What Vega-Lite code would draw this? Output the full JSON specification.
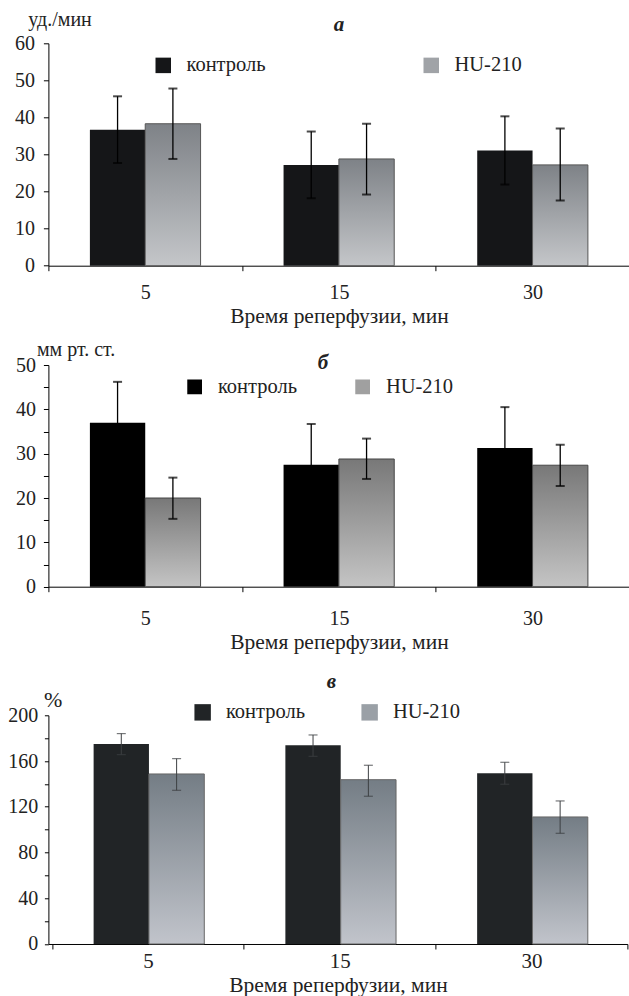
{
  "$schema": "https://vega.github.io/schema/vega-lite/v6.json",
  "padding": {"left": 7.4, "top": 9.3, "right": 0, "bottom": 0},
  "background": "white",
  "datasets": {
    "a": [
      {"t": "5", "g": "контроль", "v": 36.7, "lo": 27.7, "hi": 45.7},
      {"t": "5", "g": "HU-210", "v": 38.3, "lo": 28.8, "hi": 47.8},
      {"t": "15", "g": "контроль", "v": 27.2, "lo": 18.2, "hi": 36.2},
      {"t": "15", "g": "HU-210", "v": 28.8, "lo": 19.2, "hi": 38.3},
      {"t": "30", "g": "контроль", "v": 31.1, "lo": 21.9, "hi": 40.3},
      {"t": "30", "g": "HU-210", "v": 27.2, "lo": 17.6, "hi": 37.0}
    ],
    "b": [
      {"t": "5", "g": "контроль", "v": 37.0, "lo": 27.8, "hi": 46.2},
      {"t": "5", "g": "HU-210", "v": 20.0, "lo": 15.3, "hi": 24.6},
      {"t": "15", "g": "контроль", "v": 27.5, "lo": 18.3, "hi": 36.7},
      {"t": "15", "g": "HU-210", "v": 28.8, "lo": 24.3, "hi": 33.4},
      {"t": "30", "g": "контроль", "v": 31.3, "lo": 22.1, "hi": 40.5},
      {"t": "30", "g": "HU-210", "v": 27.4, "lo": 22.7, "hi": 32.0}
    ],
    "c": [
      {"t": "5", "g": "контроль", "v": 174.9, "lo": 165.6, "hi": 184.0},
      {"t": "5", "g": "HU-210", "v": 148.7, "lo": 134.4, "hi": 162.1},
      {"t": "15", "g": "контроль", "v": 173.8, "lo": 164.1, "hi": 182.8},
      {"t": "15", "g": "HU-210", "v": 143.7, "lo": 129.2, "hi": 156.3},
      {"t": "30", "g": "контроль", "v": 149.3, "lo": 139.7, "hi": 158.9},
      {"t": "30", "g": "HU-210", "v": 111.1, "lo": 96.8, "hi": 125.1}
    ]
  },
  "spacing": 17,
  "bounds": "full",
  "align": "none",
  "resolve": {"scale": {"fill": "independent"}, "legend": {"fill": "independent"}},
  "vconcat": [
    {
      "spacing": 98.7,
      "bounds": "flush",
      "resolve": {"scale": {"fill": "independent"}, "legend": {"fill": "independent"}},
      "vconcat": [
        {
          "width": 581,
          "height": 222.4,
          "data": {"name": "a"},
          "title": {"text": "а", "anchor": "middle", "frame": "group", "baseline": "alphabetic", "offset": -42.7, "dx": 0, "font": "Liberation Serif", "fontSize": 21, "fontStyle": "italic", "fontWeight": "bold", "color": "#222"},
          "encoding": {
            "x": {"field": "t", "type": "nominal", "sort": ["5", "15", "30"], "scale": {"paddingInner": 0, "paddingOuter": 0},
              "axis": {"title": "Время реперфузии, мин", "labelAngle": 0, "tickBand": "extent", "tickSize": 5, "labelPadding": 12, "titlePadding": 3, "titleFontSize": 21.5}},
            "xOffset": {"field": "g", "type": "nominal", "sort": ["контроль", "HU-210"], "scale": {"paddingInner": 0, "paddingOuter": 0.75}}
          },
          "layer": [
            {
              "mark": {"type": "bar"},
              "encoding": {
                "y": {"field": "v", "type": "quantitative", "title": "уд./мин", "scale": {"domain": [0, 60], "nice": false},
                  "axis": {"values": [0, 10, 20, 30, 40, 50, 60], "labelOverlap": false, "tickSize": 5, "labelPadding": 9, "titleAngle": 0, "titleAlign": "left", "titleBaseline": "alphabetic", "titleX": -20.6, "titleY": -18}},
                "fill": {"field": "g", "type": "nominal", "sort": ["контроль", "HU-210"],
                  "scale": {"domain": ["контроль", "HU-210"], "range": ["#151618", "#a0a3a7"]},
                  "condition": {"test": "datum.g === 'HU-210'", "value": {"gradient": "linear", "x1": 0, "y1": 0, "x2": 0, "y2": 1, "stops": [{"offset": 0, "color": "#7e8287"}, {"offset": 1, "color": "#c4c6c9"}]}},
                  "legend": {"orient": "none", "legendX": 104.6, "legendY": 11.7, "direction": "horizontal", "title": null, "symbolType": "square", "symbolSize": 240, "labelOffset": 13, "columnPadding": 155, "padding": 0, "labelFontSize": 20.5, "labelFont": "Liberation Serif", "labelColor": "#222", "symbolStrokeWidth": 0,
                    "encode": {"symbols": {"update": {"fill": [{"test": "datum.value === 'HU-210'", "value": {"gradient": "linear", "x1": 0, "y1": 0, "x2": 0, "y2": 1, "stops": [{"offset": 0, "color": "#7e8287"}, {"offset": 1, "color": "#c4c6c9"}]}}, {"value": "#151618"}]}}}}},
                "stroke": {"condition": {"test": "datum.g === 'HU-210'", "value": "#555"}, "value": null},
                "strokeWidth": {"value": 1}
              }
            },
            {
              "mark": {"type": "rule", "color": "#000", "strokeWidth": 1.3},
              "encoding": {"y": {"field": "lo", "type": "quantitative", "title": "уд./мин",
                  "axis": {"values": [0, 10, 20, 30, 40, 50, 60], "labelOverlap": false, "tickSize": 5, "labelPadding": 9, "titleAngle": 0, "titleAlign": "left", "titleBaseline": "alphabetic", "titleX": -20.6, "titleY": -18}}, "y2": {"field": "hi"}}
            },
            {
              "mark": {"type": "tick", "color": "#000", "thickness": 2, "size": 9},
              "encoding": {"y": {"field": "hi", "type": "quantitative", "title": "уд./мин",
                  "axis": {"values": [0, 10, 20, 30, 40, 50, 60], "labelOverlap": false, "tickSize": 5, "labelPadding": 9, "titleAngle": 0, "titleAlign": "left", "titleBaseline": "alphabetic", "titleX": -20.6, "titleY": -18}}}
            },
            {
              "mark": {"type": "tick", "color": "#000", "thickness": 2, "size": 9},
              "encoding": {"y": {"field": "lo", "type": "quantitative", "title": "уд./мин",
                  "axis": {"values": [0, 10, 20, 30, 40, 50, 60], "labelOverlap": false, "tickSize": 5, "labelPadding": 9, "titleAngle": 0, "titleAlign": "left", "titleBaseline": "alphabetic", "titleX": -20.6, "titleY": -18}}}
            }
          ]
        },
        {
          "width": 581,
          "height": 221.7,
          "data": {"name": "b"},
          "title": {"text": "б", "anchor": "middle", "frame": "group", "baseline": "alphabetic", "offset": -51, "dx": -16, "font": "Liberation Serif", "fontSize": 21, "fontStyle": "italic", "fontWeight": "bold", "color": "#222"},
          "encoding": {
            "x": {"field": "t", "type": "nominal", "sort": ["5", "15", "30"], "scale": {"paddingInner": 0, "paddingOuter": 0},
              "axis": {"title": "Время реперфузии, мин", "labelAngle": 0, "tickBand": "extent", "tickSize": 5, "labelPadding": 17, "titlePadding": 3, "titleFontSize": 21.5}},
            "xOffset": {"field": "g", "type": "nominal", "sort": ["контроль", "HU-210"], "scale": {"paddingInner": 0, "paddingOuter": 0.75}}
          },
          "layer": [
            {
              "mark": {"type": "bar"},
              "encoding": {
                "y": {"field": "v", "type": "quantitative", "title": "мм рт. ст.", "scale": {"domain": [0, 50], "nice": false},
                  "axis": {"values": [0, 5, 10, 15, 20, 25, 30, 35, 40, 45, 50], "labelExpr": "datum.value % 10 === 0 ? datum.label : ''", "labelOverlap": false, "tickSize": 5, "labelPadding": 8, "titleAngle": 0, "titleAlign": "left", "titleBaseline": "alphabetic", "titleX": -12, "titleY": -10}},
                "fill": {"field": "g", "type": "nominal", "sort": ["контроль", "HU-210"],
                  "scale": {"domain": ["контроль", "HU-210"], "range": ["#000000", "#a0a0a0"]},
                  "condition": {"test": "datum.g === 'HU-210'", "value": {"gradient": "linear", "x1": 0, "y1": 0, "x2": 0, "y2": 1, "stops": [{"offset": 0, "color": "#787878"}, {"offset": 1, "color": "#c4c4c4"}]}},
                  "legend": {"orient": "none", "legendX": 136, "legendY": 11.5, "direction": "horizontal", "title": null, "symbolType": "square", "symbolSize": 218, "labelOffset": 13, "columnPadding": 55, "padding": 0, "labelFontSize": 20.5, "labelFont": "Liberation Serif", "labelColor": "#222", "symbolStrokeWidth": 0,
                    "encode": {"symbols": {"update": {"fill": [{"test": "datum.value === 'HU-210'", "value": {"gradient": "linear", "x1": 0, "y1": 0, "x2": 0, "y2": 1, "stops": [{"offset": 0, "color": "#787878"}, {"offset": 1, "color": "#c8c8c8"}]}}, {"value": "#000000"}]}}}}},
                "stroke": {"condition": {"test": "datum.g === 'HU-210'", "value": "#444"}, "value": null},
                "strokeWidth": {"value": 1}
              }
            },
            {
              "mark": {"type": "rule", "color": "#000", "strokeWidth": 1.3},
              "encoding": {"y": {"field": "lo", "type": "quantitative", "title": "мм рт. ст.",
                  "axis": {"values": [0, 5, 10, 15, 20, 25, 30, 35, 40, 45, 50], "labelExpr": "datum.value % 10 === 0 ? datum.label : ''", "labelOverlap": false, "tickSize": 5, "labelPadding": 8, "titleAngle": 0, "titleAlign": "left", "titleBaseline": "alphabetic", "titleX": -12, "titleY": -10}}, "y2": {"field": "hi"}}
            },
            {
              "mark": {"type": "tick", "color": "#000", "thickness": 2, "size": 9},
              "encoding": {"y": {"field": "hi", "type": "quantitative", "title": "мм рт. ст.",
                  "axis": {"values": [0, 5, 10, 15, 20, 25, 30, 35, 40, 45, 50], "labelExpr": "datum.value % 10 === 0 ? datum.label : ''", "labelOverlap": false, "tickSize": 5, "labelPadding": 8, "titleAngle": 0, "titleAlign": "left", "titleBaseline": "alphabetic", "titleX": -12, "titleY": -10}}}
            },
            {
              "mark": {"type": "tick", "color": "#000", "thickness": 2, "size": 9},
              "encoding": {"y": {"field": "lo", "type": "quantitative", "title": "мм рт. ст.",
                  "axis": {"values": [0, 5, 10, 15, 20, 25, 30, 35, 40, 45, 50], "labelExpr": "datum.value % 10 === 0 ? datum.label : ''", "labelOverlap": false, "tickSize": 5, "labelPadding": 8, "titleAngle": 0, "titleAlign": "left", "titleBaseline": "alphabetic", "titleX": -12, "titleY": -10}}}
            }
          ]
        }
      ]
    },
    {
      "width": 579,
      "height": 228.7,
      "data": {"name": "c"},
      "title": {"text": "в", "anchor": "middle", "frame": "group", "baseline": "alphabetic", "offset": -20.4, "dx": -6.5, "font": "Liberation Serif", "fontSize": 21, "fontStyle": "italic", "fontWeight": "bold", "color": "#222"},
      "encoding": {
        "x": {"field": "t", "type": "nominal", "sort": ["5", "15", "30"], "scale": {"paddingInner": 0, "paddingOuter": 0.0097, "align": 1},
          "axis": {"title": "Время реперфузии, мин", "labelAngle": 0, "tickBand": "extent", "tickSize": 5, "labelPadding": 1.5, "titlePadding": 3, "labelFontSize": 21, "titleFontSize": 21.5}},
        "xOffset": {"field": "g", "type": "nominal", "sort": ["контроль", "HU-210"], "scale": {"paddingInner": 0, "paddingOuter": 0.75}}
      },
      "layer": [
        {
          "mark": {"type": "bar"},
          "encoding": {
            "y": {"field": "v", "type": "quantitative", "title": "%", "scale": {"domain": [0, 200], "nice": false},
              "axis": {"values": [0, 20, 40, 60, 80, 100, 120, 140, 160, 180, 200], "labelExpr": "datum.value % 40 === 0 ? datum.label : ''", "labelOverlap": false, "tickSize": 4, "labelPadding": 6.6, "labelFontSize": 20, "titleFontSize": 22, "titleAngle": 0, "titleAlign": "left", "titleBaseline": "alphabetic", "titleX": -5, "titleY": -9}},
            "fill": {"field": "g", "type": "nominal", "sort": ["контроль", "HU-210"],
              "scale": {"domain": ["контроль", "HU-210"], "range": ["#212426", "#9aa0a6"]},
              "condition": {"test": "datum.g === 'HU-210'", "value": {"gradient": "linear", "x1": 0, "y1": 0, "x2": 0, "y2": 1, "stops": [{"offset": 0, "color": "#747d85"}, {"offset": 1, "color": "#c1c4cb"}]}},
              "legend": {"orient": "none", "legendX": 144, "legendY": -13.3, "direction": "horizontal", "title": null, "symbolType": "square", "symbolSize": 270, "labelOffset": 13, "columnPadding": 54, "padding": 0, "labelFontSize": 20.5, "labelFont": "Liberation Serif", "labelColor": "#222", "symbolStrokeWidth": 0,
                "encode": {"symbols": {"update": {"fill": [{"test": "datum.value === 'HU-210'", "value": {"gradient": "linear", "x1": 0, "y1": 0, "x2": 0, "y2": 1, "stops": [{"offset": 0, "color": "#7a8189"}, {"offset": 1, "color": "#c3c6cc"}]}}, {"value": "#212426"}]}}}}},
            "stroke": {"condition": {"test": "datum.g === 'HU-210'", "value": "#666"}, "value": null},
            "strokeWidth": {"value": 1}
          }
        },
        {
          "mark": {"type": "rule", "color": "#3c3f42", "strokeWidth": 1},
          "encoding": {"y": {"field": "lo", "type": "quantitative", "title": "%",
              "axis": {"values": [0, 20, 40, 60, 80, 100, 120, 140, 160, 180, 200], "labelExpr": "datum.value % 40 === 0 ? datum.label : ''", "labelOverlap": false, "tickSize": 4, "labelPadding": 6.6, "labelFontSize": 20, "titleFontSize": 22, "titleAngle": 0, "titleAlign": "left", "titleBaseline": "alphabetic", "titleX": -5, "titleY": -9}}, "y2": {"field": "hi"}}
        },
        {
          "mark": {"type": "tick", "color": "#3c3f42", "thickness": 1.2, "size": 9},
          "encoding": {"y": {"field": "hi", "type": "quantitative", "title": "%",
              "axis": {"values": [0, 20, 40, 60, 80, 100, 120, 140, 160, 180, 200], "labelExpr": "datum.value % 40 === 0 ? datum.label : ''", "labelOverlap": false, "tickSize": 4, "labelPadding": 6.6, "labelFontSize": 20, "titleFontSize": 22, "titleAngle": 0, "titleAlign": "left", "titleBaseline": "alphabetic", "titleX": -5, "titleY": -9}}}
        },
        {
          "mark": {"type": "tick", "color": "#3c3f42", "thickness": 1.2, "size": 9},
          "encoding": {"y": {"field": "lo", "type": "quantitative", "title": "%",
              "axis": {"values": [0, 20, 40, 60, 80, 100, 120, 140, 160, 180, 200], "labelExpr": "datum.value % 40 === 0 ? datum.label : ''", "labelOverlap": false, "tickSize": 4, "labelPadding": 6.6, "labelFontSize": 20, "titleFontSize": 22, "titleAngle": 0, "titleAlign": "left", "titleBaseline": "alphabetic", "titleX": -5, "titleY": -9}}}
        }
      ]
    }
  ],
  "config": {
    "view": {"stroke": null},
    "font": "Liberation Serif",
    "axis": {"domainColor": "#000", "tickColor": "#000", "labelColor": "#222", "titleColor": "#222", "labelFont": "Liberation Serif", "titleFont": "Liberation Serif", "grid": false, "labelFontSize": 20, "titleFontSize": 20, "titleFontWeight": "normal", "domainWidth": 1, "tickWidth": 1, "labelOverlap": false}
  }
}
